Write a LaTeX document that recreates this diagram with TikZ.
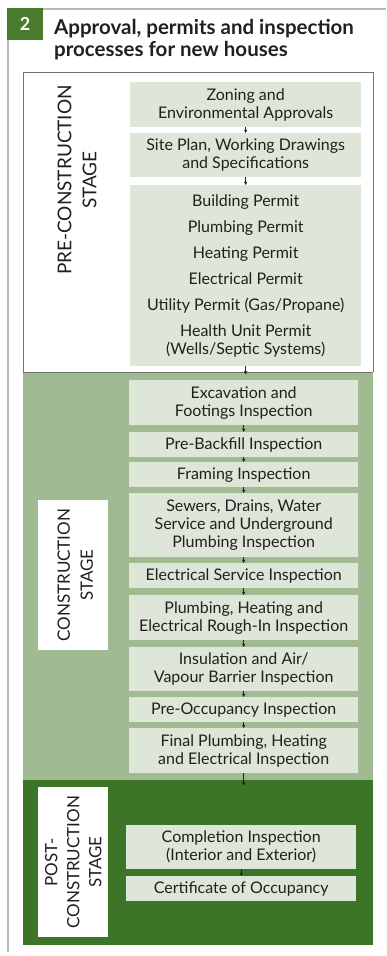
\documentclass[tikz,border=0pt]{standalone}
\usepackage{fontspec}
\setmainfont{Lato}
\usetikzlibrary{arrows.meta}
\definecolor{badgeg}{HTML}{4A7A2C}
\definecolor{lightg}{HTML}{A0BA92}
\definecolor{darkg}{HTML}{3C7428}
\definecolor{boxf}{HTML}{DEE5D9}
\definecolor{framec}{HTML}{6E7A66}
\definecolor{outerc}{HTML}{B8B8B8}
\definecolor{txt}{HTML}{231F20}
\tikzset{
  stepbox/.style={fill=boxf, anchor=north west, inner sep=0pt, align=center,
    text=txt, font=\fontsize{16}{18}\selectfont},
  stagelabel/.style={rotate=90, align=center, text=txt,
    font=\fontsize{17}{23}\selectfont},
  arr/.style={draw=txt, line width=1pt, -{Stealth[length=3.5pt,width=3.5pt]}},
}
\begin{document}
\begin{tikzpicture}[x=1pt,y=-1pt]
\useasboundingbox (0,0) rectangle (386,956);
% outer frame
\draw[outerc, line width=1.8pt] (43,9) -- (386,9);
\draw[outerc, line width=1.8pt] (8,40) -- (8,952);
% badge
\node[fill=badgeg, minimum width=36pt, minimum height=32pt, anchor=north west,
  inner sep=0pt, text=white, font=\bfseries\fontsize{18}{20}\selectfont] (badge) at (7,8) {2};
\node[anchor=north west, align=left, inner sep=0pt, text=txt,
  font=\bfseries\fontsize{20.5}{22.5}\selectfont] (title) at (54,19)
  {Approval, permits and inspection\\processes for new houses};
% sections
\fill[white] (23,72) rectangle (373,372);
\fill[lightg] (23,372) rectangle (373,780);
\fill[darkg] (23,780) rectangle (373,945);
\draw[framec, line width=0.8pt] (23,372) -- (23,72) -- (373,72) -- (373,372);
\draw[framec, line width=0.5pt] (23,372) -- (373,372);
% stage labels
\node[fill=white, minimum width=70pt, minimum height=150pt, anchor=north west] (cl) at (38,500) {};
\node[fill=white, minimum width=70pt, minimum height=150pt, anchor=north west] (pl) at (38,787) {};
\node[stagelabel, font=\fontsize{19}{25}\selectfont] (prelab) at (77,180) {PRE-CONSTRUCTION\\STAGE};
\node[stagelabel] (conlab) at ([xshift=2pt]cl.center) {CONSTRUCTION\\STAGE};
\node[stagelabel, font=\fontsize{17}{22}\selectfont] (postlab) at (pl.center) {POST-\\CONSTRUCTION\\STAGE};
% pre-construction boxes
\node[stepbox, minimum width=231pt, minimum height=45pt] (p1) at (130,82)
  {Zoning and\\Environmental Approvals};
\node[stepbox, minimum width=231pt, minimum height=44pt] (p2) at (130,133)
  {Site Plan, Working Drawings\\and Specifications};
\node[stepbox, minimum width=231pt, minimum height=181pt] (p3) at (130,185)
  {Building Permit\\[8pt]Plumbing Permit\\[8pt]Heating Permit\\[8pt]Electrical Permit\\[8pt]Utility Permit (Gas/Propane)\\[8pt]Health Unit Permit\\(Wells/Septic Systems)};
% construction boxes
\node[stepbox, minimum width=229pt, minimum height=45pt] (c1) at (129,380)
  {Excavation and\\Footings Inspection};
\node[stepbox, minimum width=229pt, minimum height=25pt] (c2) at (129,432)
  {Pre-Backfill Inspection};
\node[stepbox, minimum width=229pt, minimum height=25pt] (c3) at (129,462)
  {Framing Inspection};
\node[stepbox, minimum width=229pt, minimum height=64pt] (c4) at (129,493)
  {Sewers, Drains, Water\\Service and Underground\\Plumbing Inspection};
\node[stepbox, minimum width=229pt, minimum height=25pt] (c5) at (129,563)
  {Electrical Service Inspection};
\node[stepbox, minimum width=229pt, minimum height=45pt] (c6) at (129,595)
  {Plumbing, Heating and\\Electrical Rough-In Inspection};
\node[stepbox, minimum width=229pt, minimum height=44pt] (c7) at (129,647)
  {Insulation and Air/\\Vapour Barrier Inspection};
\node[stepbox, minimum width=229pt, minimum height=25pt] (c8) at (129,697)
  {Pre-Occupancy Inspection};
\node[stepbox, minimum width=229pt, minimum height=45pt] (c9) at (129,728)
  {Final Plumbing, Heating\\and Electrical Inspection};
% post-construction boxes
\node[stepbox, minimum width=230pt, minimum height=44pt] (q1) at (126,825)
  {Completion Inspection\\(Interior and Exterior)};
\node[stepbox, minimum width=230pt, minimum height=25pt] (q2) at (126,876)
  {Certificate of Occupancy};
% connectors
\coordinate (x1) at ([yshift=-8pt]p3.south);
\coordinate (x2) at ([yshift=-12pt]c9.south);
\draw[arr] (p1.south) -- (p2.north);
\draw[arr] (p2.south) -- (p3.north);
\draw[arr] (p3.south) -- (x1);
\draw[arr] (c1.south) -- (c2.north);
\draw[arr] (c2.south) -- (c3.north);
\draw[arr] (c3.south) -- (c4.north);
\draw[arr] (c4.south) -- (c5.north);
\draw[arr] (c5.south) -- (c6.north);
\draw[arr] (c6.south) -- (c7.north);
\draw[arr] (c7.south) -- (c8.north);
\draw[arr] (c8.south) -- (c9.north);
\draw[arr] (c9.south) -- (x2);
\draw[arr] (q1.south) -- (q2.north);
\end{tikzpicture}
\end{document}
